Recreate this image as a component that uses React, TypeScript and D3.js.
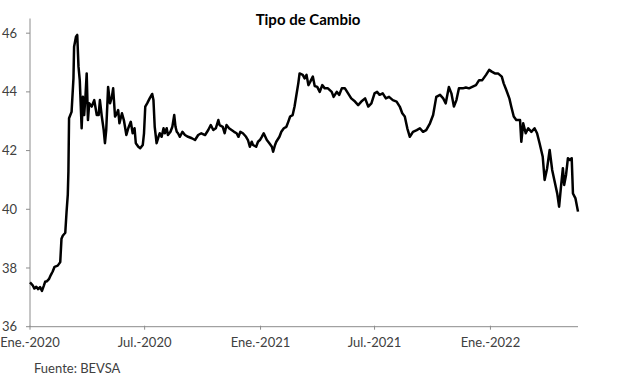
import React from "react";
import * as d3 from "d3";

const dates: string[] = [
  "2020-01-01","2020-01-05","2020-01-08","2020-01-11","2020-01-14","2020-01-17","2020-01-20","2020-01-23","2020-01-25","2020-01-28","2020-01-31",
  "2020-02-03","2020-02-06","2020-02-09","2020-02-14","2020-02-18","2020-02-20","2020-02-22","2020-02-26","2020-02-28",
  "2020-03-01","2020-03-02","2020-03-03","2020-03-07","2020-03-10","2020-03-11","2020-03-14","2020-03-16","2020-03-18","2020-03-20","2020-03-23","2020-03-25","2020-03-27","2020-03-29","2020-03-31",
  "2020-04-02","2020-04-04","2020-04-08","2020-04-12","2020-04-16","2020-04-19","2020-04-21","2020-04-24","2020-04-27","2020-04-29",
  "2020-05-01","2020-05-04","2020-05-07","2020-05-10","2020-05-12","2020-05-15","2020-05-18","2020-05-20","2020-05-22","2020-05-26","2020-05-29",
  "2020-06-02","2020-06-05","2020-06-09","2020-06-12","2020-06-15","2020-06-17","2020-06-21","2020-06-24","2020-06-28","2020-06-30",
  "2020-07-02","2020-07-05","2020-07-09","2020-07-13","2020-07-15","2020-07-17","2020-07-20","2020-07-23","2020-07-25","2020-07-28","2020-07-31",
  "2020-08-02","2020-08-05","2020-08-07","2020-08-11","2020-08-14","2020-08-17","2020-08-19","2020-08-21","2020-08-23","2020-08-26","2020-08-30",
  "2020-09-03","2020-09-08","2020-09-14","2020-09-19","2020-09-24","2020-09-29",
  "2020-10-05","2020-10-10","2020-10-14","2020-10-18","2020-10-22","2020-10-26","2020-10-28",
  "2020-11-02","2020-11-05","2020-11-08","2020-11-12","2020-11-16","2020-11-20","2020-11-24","2020-11-27","2020-11-30",
  "2020-12-04","2020-12-09","2020-12-12","2020-12-15","2020-12-18","2020-12-20","2020-12-25","2020-12-28","2020-12-31",
  "2021-01-03","2021-01-06","2021-01-11","2021-01-15","2021-01-19","2021-01-21","2021-01-24","2021-01-26","2021-01-31",
  "2021-02-03","2021-02-07","2021-02-11","2021-02-14","2021-02-17","2021-02-21","2021-02-24","2021-02-27",
  "2021-03-02","2021-03-04","2021-03-09","2021-03-12","2021-03-15","2021-03-18","2021-03-21","2021-03-25","2021-03-28",
  "2021-04-01","2021-04-05","2021-04-09","2021-04-13","2021-04-18","2021-04-24","2021-04-27",
  "2021-05-02","2021-05-06","2021-05-10","2021-05-15","2021-05-20","2021-05-25","2021-05-31",
  "2021-06-05","2021-06-10","2021-06-16","2021-06-21","2021-06-26",
  "2021-07-01","2021-07-05","2021-07-09","2021-07-14","2021-07-19","2021-07-24","2021-07-30",
  "2021-08-05","2021-08-10","2021-08-14","2021-08-18","2021-08-22","2021-08-26","2021-08-31",
  "2021-09-06","2021-09-11","2021-09-16","2021-09-21","2021-09-27",
  "2021-10-02","2021-10-07","2021-10-13","2021-10-18","2021-10-22","2021-10-27","2021-10-31",
  "2021-11-04","2021-11-08","2021-11-12","2021-11-18","2021-11-23","2021-11-28",
  "2021-12-03","2021-12-09","2021-12-14","2021-12-19","2021-12-25","2021-12-30",
  "2022-01-03","2022-01-08","2022-01-13","2022-01-19","2022-01-22","2022-01-26","2022-01-31",
  "2022-02-03","2022-02-07","2022-02-11","2022-02-17","2022-02-19","2022-02-22","2022-02-26",
  "2022-03-02","2022-03-07","2022-03-12","2022-03-16","2022-03-20","2022-03-25","2022-03-28",
  "2022-04-01","2022-04-05","2022-04-09","2022-04-13","2022-04-17","2022-04-20","2022-04-23","2022-04-26","2022-04-28",
  "2022-05-01","2022-05-04","2022-05-07","2022-05-10","2022-05-12","2022-05-16","2022-05-20",
];

const values: number[] = [
  37.51,37.42,37.30,37.36,37.28,37.35,37.22,37.40,37.53,37.55,37.62,
  37.76,37.88,38.04,38.08,38.20,39.00,39.10,39.20,39.90,
  40.50,41.30,43.10,43.32,44.46,45.54,45.88,45.94,44.86,44.40,42.76,43.83,43.21,43.83,44.63,
  43.04,43.61,43.50,43.72,43.21,43.21,43.72,43.16,42.70,42.25,
  42.70,44.17,43.61,43.83,44.12,43.16,43.27,43.38,42.93,43.27,43.04,
  42.53,42.76,42.98,42.59,42.76,42.25,42.13,42.08,42.19,42.59,
  43.50,43.61,43.78,43.93,43.72,42.81,42.25,42.47,42.59,42.47,42.76,
  42.59,42.76,42.53,42.64,42.81,43.21,42.81,42.64,42.59,42.47,42.64,
  42.53,42.47,42.42,42.36,42.53,42.59,
  42.53,42.70,42.87,42.70,42.76,43.04,42.87,
  42.81,42.59,42.87,42.76,42.70,42.64,42.59,42.47,42.64,
  42.59,42.47,42.36,42.13,42.30,42.19,42.13,42.30,42.36,
  42.47,42.59,42.36,42.25,42.13,41.96,42.19,42.30,42.47,
  42.64,42.76,42.81,42.98,43.16,43.21,43.50,43.90,
  44.30,44.63,44.58,44.46,44.58,44.23,44.35,44.52,44.20,
  44.17,44.00,44.23,44.12,44.12,44.00,43.83,
  44.00,43.90,44.12,44.12,43.95,43.78,43.67,
  43.55,43.67,43.78,43.50,43.61,
  43.95,44.00,43.90,43.95,43.78,43.83,43.72,
  43.67,43.50,43.27,43.16,42.76,42.47,42.64,
  42.70,42.76,42.64,42.70,42.93,
  43.21,43.83,43.90,43.78,43.61,44.17,43.95,
  43.50,43.72,44.12,44.12,44.15,44.12,
  44.17,44.23,44.40,44.40,44.58,44.75,
  44.69,44.63,44.63,44.52,44.29,44.07,43.78,
  43.50,43.16,43.04,43.04,42.30,42.93,42.59,
  42.76,42.64,42.76,42.59,42.25,41.79,41.00,
  41.40,42.02,41.34,40.94,40.54,40.09,40.77,41.40,40.83,
  41.17,41.74,41.68,41.74,40.54,40.37,39.92,
];

const yTicks: number[] = [36, 38, 40, 42, 44, 46];
const xTickDates: string[] = ["2020-01-01", "2020-07-01", "2021-01-01", "2021-07-01", "2022-01-01"];
const xTickLabels: string[] = ["Ene.-2020", "Jul.-2020", "Ene.-2021", "Jul.-2021", "Ene.-2022"];
const xDomain: string[] = ["2020-01-01", "2022-05-20"];
const yDomain: number[] = [36, 46.5];
const title = "Tipo de Cambio";
const source = "Fuente: BEVSA";

export default function App() {
  const W = 617, H = 384;
  const parse = d3.utcParse("%Y-%m-%d");
  const x = d3.scaleUtc().domain(xDomain.map((d) => parse(d)!)).range([30, 578]);
  const y = d3.scaleLinear().domain(yDomain).range([326.7, 18.5]);
  const data = dates.map((d, i) => ({ d: parse(d)!, v: values[i] }));
  const line = d3.line<{ d: Date; v: number }>().x((p) => x(p.d)).y((p) => y(p.v));
  const axisColor = "#8c8c8c";
  const font = "Lato, 'Open Sans', sans-serif";
  const textColor = "#404040";
  const y0 = y(36);
  return (
    <svg width={W} height={H} style={{ position: "absolute", left: 0, top: 0, background: "#fff" }} fontFamily={font}>
      <rect width={W} height={H} fill="#fff" />
      <text x={308} y={25} textAnchor="middle" fontSize={15} fontWeight="bold" fill="#000">{title}</text>
      <line x1={30} x2={30} y1={y(yDomain[1])} y2={y0} stroke={axisColor} strokeWidth={1} />
      {yTicks.map((t) => (
        <g key={t}>
          <line x1={26} x2={30} y1={y(t)} y2={y(t)} stroke={axisColor} strokeWidth={1} />
          <text x={17} y={y(t)} dy="0.35em" textAnchor="end" fontSize={13} fill={textColor}>{t}</text>
        </g>
      ))}
      <line x1={30} x2={578} y1={y0} y2={y0} stroke={axisColor} strokeWidth={1} />
      {xTickDates.map((d, i) => {
        const px = x(parse(d)!);
        return (
          <g key={d}>
            <line x1={px} x2={px} y1={y0 - 1} y2={y0 + 3} stroke={axisColor} strokeWidth={1} />
            <text x={px} y={347} textAnchor="middle" fontSize={13} fill={textColor}>{xTickLabels[i]}</text>
          </g>
        );
      })}
      <path d={line(data) || ""} fill="none" stroke="#000" strokeWidth={2.5} strokeLinejoin="round" />
      <text x={34} y={373} fontSize={13} fill={textColor}>{source}</text>
    </svg>
  );
}
